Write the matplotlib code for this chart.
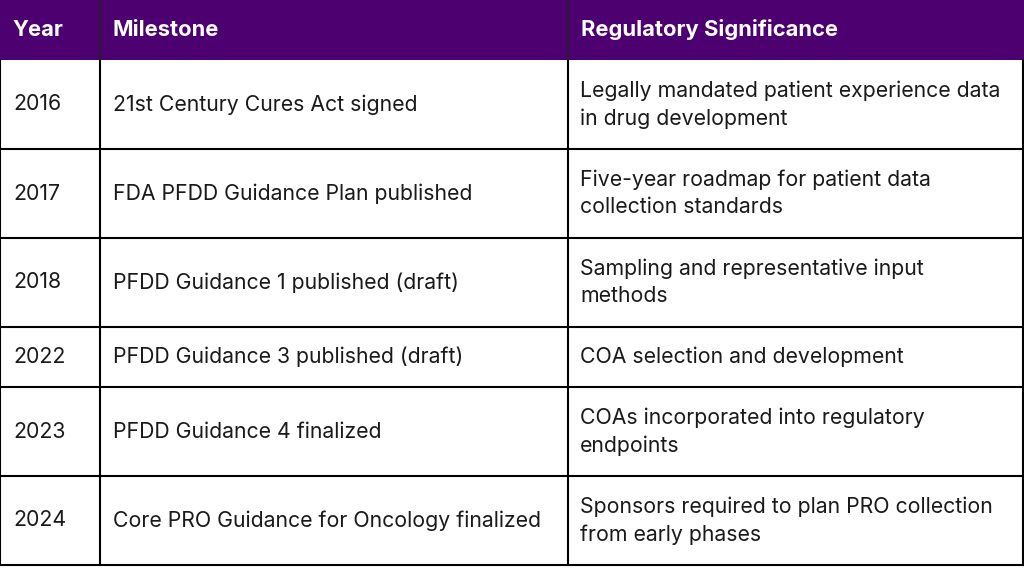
import matplotlib.pyplot as plt
from matplotlib.patches import Rectangle

plt.rcParams['font.family'] = ['Inter', 'DejaVu Sans']

headers = ["Year", "Milestone", "Regulatory Significance"]
years = ["2016", "2017", "2018", "2022", "2023", "2024"]
milestones = [
    "21st Century Cures Act signed",
    "FDA PFDD Guidance Plan published",
    "PFDD Guidance 1 published (draft)",
    "PFDD Guidance 3 published (draft)",
    "PFDD Guidance 4 finalized",
    "Core PRO Guidance for Oncology finalized",
]
significance = [
    "Legally mandated patient experience data\nin drug development",
    "Five-year roadmap for patient data\ncollection standards",
    "Sampling and representative input\nmethods",
    "COA selection and development",
    "COAs incorporated into regulatory\nendpoints",
    "Sponsors required to plan PRO collection\nfrom early phases",
]

W, H = 1024, 571
col_x = [0, 100, 568, 1023]
header_h = 60
line_h = 29
pad = 60

fig = plt.figure(figsize=(W / 100, H / 100), dpi=100)
ax = fig.add_axes([0, 0, 1, 1])
ax.set_xlim(0, W)
ax.set_ylim(H, 0)
ax.axis('off')

purple = '#4D0070'
ax.add_patch(Rectangle((0, 0), W, header_h, color=purple, lw=0))
for i, h in enumerate(headers):
    ax.text(col_x[i] + 13, header_h / 2, h, color='white', fontsize=15.8,
            fontweight='bold', va='center', ha='left')

y = header_h
for yr, ms, sg in zip(years, milestones, significance):
    n = sg.count('\n') + 1
    rh = pad + (n - 1) * line_h
    mid = y + rh / 2
    ax.text(col_x[0] + 13, mid, yr, fontsize=15.3, color='#1a1a1a', va='center')
    ax.text(col_x[1] + 13, mid, ms, fontsize=15.3, color='#1a1a1a', va='center')
    ax.text(col_x[2] + 12, mid, sg, fontsize=15.3, color='#1a1a1a', va='center',
            linespacing=1.45)
    y += rh
    ax.plot([0, W], [y, y], color='black', lw=1.5)

bottom = y
for x in col_x:
    ax.plot([x, x], [header_h, bottom], color='black', lw=1.5)
for x in col_x[1:3]:
    ax.plot([x, x], [0, header_h], color='#222222', lw=1.2)

fig.savefig('out.png', dpi=100)
